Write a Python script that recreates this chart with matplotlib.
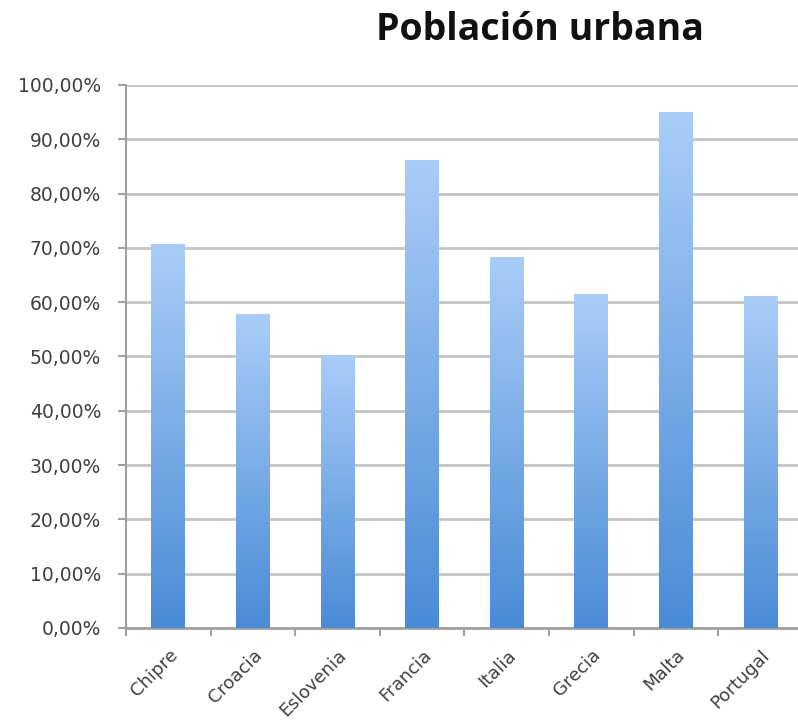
import numpy as np
import matplotlib.pyplot as plt
from matplotlib.colors import LinearSegmentedColormap
from matplotlib.ticker import FuncFormatter

paises = ["Chipre", "Croacia", "Eslovenia", "Francia", "Italia", "Grecia", "Malta", "Portugal"]
poblacion_urbana = [70.7, 57.8, 50.3, 86.1, 68.4, 61.5, 95.0, 61.1]
y_ticks = [0, 10, 20, 30, 40, 50, 60, 70, 80, 90, 100]

plt.rcParams['font.family'] = ['DejaVu Sans']

fig = plt.figure(figsize=(7.98, 7.24), dpi=100)
ax = fig.add_axes([0.158, 0.1326, 0.848, 0.75])

x = np.arange(len(paises))
bars = ax.bar(x, poblacion_urbana, width=0.4, color="none", zorder=3)

# degradado vertical dentro de cada barra
cmap = LinearSegmentedColormap.from_list("azul", ["#4a8bd6", "#a9cdf8"])
grad = np.linspace(0, 1, 256).reshape(-1, 1)
for b in bars:
    x0, w, h = b.get_x(), b.get_width(), b.get_height()
    im = ax.imshow(grad, cmap=cmap, origin="lower", aspect="auto",
                   extent=[x0, x0 + w, 0, h], zorder=3)
    im.set_clip_path(b)

ax.set_xlim(-0.5, 7.5)
ax.set_ylim(0, 100)
ax.set_yticks(y_ticks)
ax.yaxis.set_major_formatter(FuncFormatter(lambda v, p: f"{v:.2f}%".replace(".", ",")))
ax.set_xticks(x)
ax.set_xticklabels(paises, rotation=45, ha="right", rotation_mode="anchor")
ax.set_xticks(np.arange(-0.5, 8, 1), minor=True)
ax.tick_params(axis="x", which="major", length=0, labelsize=13, colors="#404040", pad=13)
ax.tick_params(axis="x", which="minor", length=6, width=1.5, color="#a0a0a0")
ax.tick_params(axis="y", length=6, width=1.5, color="#a0a0a0", labelsize=13.5,
               labelcolor="#404040", pad=12)

ax.grid(axis="y", color="#c4c4c4", linewidth=2, zorder=0)
ax.set_axisbelow(True)
for s in ["top", "right"]:
    ax.spines[s].set_visible(False)
ax.spines["left"].set_color("#a0a0a0")
ax.spines["left"].set_linewidth(1.5)
ax.spines["bottom"].set_color("#a0a0a0")
ax.spines["bottom"].set_linewidth(2)

fig.text(0.677, 0.959, "Población urbana", ha="center", va="center",
         fontsize=27, fontweight="bold", color="#111111", family=["Open Sans", "DejaVu Sans"])

fig.savefig("out.png", dpi=100)
